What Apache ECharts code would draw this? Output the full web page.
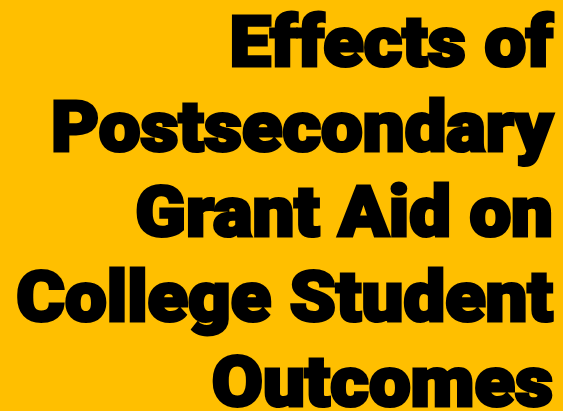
<!DOCTYPE html>
<html>
<head>
<meta charset="utf-8">
<script src="https://cdn.jsdelivr.net/npm/echarts@6/dist/echarts.min.js"></script>
<style>
  html, body { margin: 0; padding: 0; }
  #main { width: 563px; height: 411px; }
</style>
</head>
<body>
<div id="main"></div>
<script>
var titleLines = ['Effects of', 'Postsecondary', 'Grant Aid on', 'College Student', 'Outcomes'];

// one text element per title line, right aligned
var lineElements = titleLines.map(function (line, i) {
    return {
        type: 'text',
        x: 553,
        y: 48.5 + i * 85,
        scaleX: 1.06,
        style: {
            text: line,
            fill: '#000',
            stroke: '#000',
            lineWidth: 3,
            fontFamily: 'Roboto',
            fontWeight: 900,
            fontSize: 70,
            align: 'right',
            verticalAlign: 'middle'
        }
    };
});

var option = {
    backgroundColor: '#FFBF00',
    animation: false,
    graphic: lineElements
};

var myChart = echarts.init(document.getElementById('main'));
myChart.setOption(option);
</script>
</body>
</html>
